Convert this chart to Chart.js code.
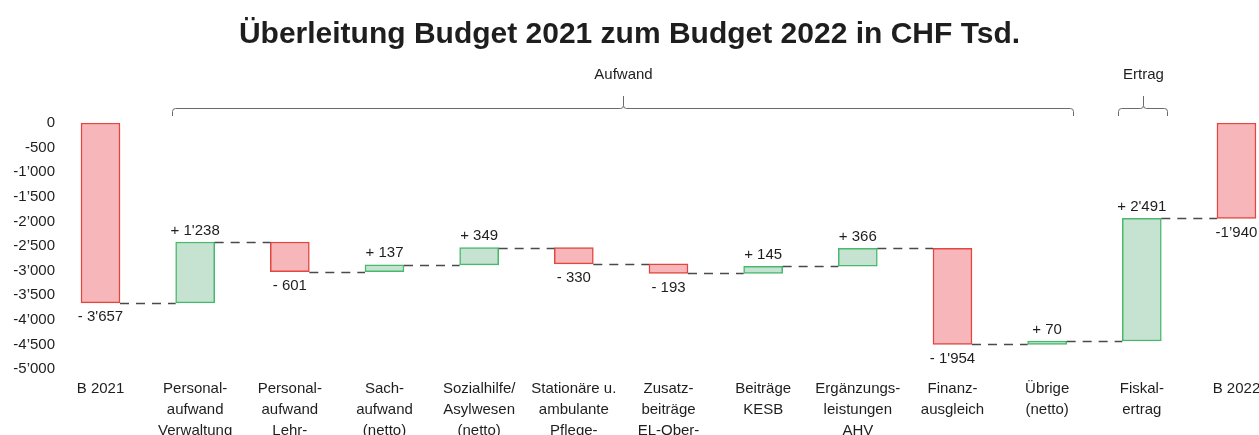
<!DOCTYPE html>
<html><head><meta charset="utf-8">
<script src="https://cdn.jsdelivr.net/npm/chart.js@4.4.1/dist/chart.umd.min.js"></script>
<style>html,body{margin:0;padding:0;background:#fff;overflow:hidden}#wrap{width:1259px;height:435px;position:relative}canvas{display:block}</style>
</head><body><div id="wrap"><canvas id="c" width="1259" height="435"></canvas></div>
<script>
const categories = [["B 2021"],["Personal-","aufwand","Verwaltung"],["Personal-","aufwand","Lehr-"],["Sach-","aufwand","(netto)"],["Sozialhilfe/","Asylwesen","(netto)"],["Stationäre u.","ambulante","Pflege-"],["Zusatz-","beiträge","EL-Ober-"],["Beiträge","KESB"],["Ergänzungs-","leistungen","AHV"],["Finanz-","ausgleich"],["Übrige","(netto)"],["Fiskal-","ertrag"],["B 2022"]];
const startTotal = -3657;
const changes = [1238, -601, 137, 349, -330, -193, 145, 366, -1954, 70, 2491];
const endTotal = -1940;
const valueLabels = ["- 3'657","+ 1'238","- 601","+ 137","+ 349","- 330","- 193","+ 145","+ 366","- 1'954","+ 70","+ 2'491","-1\u2019940"];
const yTicks = [0,-500,-1000,-1500,-2000,-2500,-3000,-3500,-4000,-4500,-5000];
const groups = [{label:"Aufwand", from:1, to:10},{label:"Ertrag", from:11, to:11}];

const RED_FILL = "#f7b6ba", RED_LINE = "#e2473f", GREEN_FILL = "#c5e3d0", GREEN_LINE = "#46b96c";

// build floating bars from the arrays
const ranges = [];
const levels = [];
ranges.push([0, startTotal]);
let run = startTotal;
levels.push(run);
changes.forEach(c => { ranges.push([run, run + c]); run += c; levels.push(run); });
ranges.push([0, endTotal]);
const kinds = ["total"].concat(changes.map(c => c >= 0 ? "up" : "down")).concat(["total"]);
const barData = ranges.map((r, i) => ({x: i, y: r}));
const fills = kinds.map(k => k === "up" ? GREEN_FILL : RED_FILL);
const lines = kinds.map(k => k === "up" ? GREEN_LINE : RED_LINE);

function fmtThousands(v) {
  const a = Math.abs(v);
  let s = a >= 1000 ? Math.floor(a/1000) + "\u2019" + String(a % 1000).padStart(3, "0") : String(a);
  return (v < 0 ? "-" : "") + s;
}

const FONT = "'Liberation Sans', Arial, Helvetica, sans-serif";
const TEXT = "#1e1e1e";

const overlay = {
  id: "overlay",
  afterDatasetsDraw(chart) {
    const ctx = chart.ctx;
    const xs = chart.scales.x, ys = chart.scales.y;
    const meta = chart.getDatasetMeta(0);
    // connectors
    ctx.save();
    ctx.strokeStyle = "#4a4a4a";
    ctx.lineWidth = 1.5;
    ctx.setLineDash([9, 7]);
    for (let i = 0; i < levels.length; i++) {
      const a = meta.data[i], b = meta.data[i+1];
      const y = Math.round(ys.getPixelForValue(levels[i])) + 0.5;
      ctx.beginPath();
      ctx.moveTo(a.x + a.width/2, y);
      ctx.lineTo(b.x - b.width/2, y);
      ctx.stroke();
    }
    ctx.restore();
    // value labels
    ctx.save();
    ctx.font = "15px " + FONT;
    ctx.fillStyle = TEXT;
    ctx.textAlign = "center";
    ctx.textBaseline = "middle";
    meta.data.forEach((el, i) => {
      const top = Math.min(el.y, el.base), bottom = Math.max(el.y, el.base);
      if (kinds[i] === "up") ctx.fillText(valueLabels[i], el.x, top - 11.5);
      else ctx.fillText(valueLabels[i], el.x, bottom + 14);
    });
    ctx.restore();
    // group brackets
    ctx.save();
    ctx.strokeStyle = "#6a6a6a";
    ctx.lineWidth = 1;
    ctx.font = "15px " + FONT;
    ctx.fillStyle = TEXT;
    ctx.textAlign = "center";
    ctx.textBaseline = "middle";
    const yl = 108.5, yEnd = 116, yTip = 96;
    groups.forEach(g => {
      const x0 = Math.round(xs.getPixelForValue(g.from - 0.25)) + 0.5;
      const x1 = Math.round(xs.getPixelForValue(g.to + 0.27)) + 0.5;
      const xc = Math.round((x0 + x1) / 2) + 0.5;
      ctx.beginPath();
      ctx.moveTo(x0, yEnd);
      ctx.lineTo(x0, yl + 3);
      ctx.quadraticCurveTo(x0, yl, x0 + 3, yl);
      ctx.lineTo(xc - 3, yl);
      ctx.quadraticCurveTo(xc, yl, xc, yl - 3);
      ctx.lineTo(xc, yTip);
      ctx.moveTo(xc, yl - 3);
      ctx.quadraticCurveTo(xc, yl, xc + 3, yl);
      ctx.lineTo(x1 - 3, yl);
      ctx.quadraticCurveTo(x1, yl, x1, yl + 3);
      ctx.lineTo(x1, yEnd);
      ctx.stroke();
      ctx.fillText(g.label, xc, 75);
    });
    ctx.restore();
  }
};

new Chart(document.getElementById("c"), {
  type: "bar",
  data: {
    datasets: [{
      data: barData,
      backgroundColor: fills,
      borderColor: lines,
      borderWidth: 1.5,
      borderSkipped: false,
      barThickness: 39
    }]
  },
  options: {
    responsive: false,
    animation: false,
    devicePixelRatio: 1,
    layout: { padding: { left: 0, right: 0, top: 0, bottom: 0 } },
    plugins: {
      legend: { display: false },
      tooltip: { enabled: false },
      title: {
        display: true,
        text: "Überleitung Budget 2021 zum Budget 2022 in CHF Tsd.",
        color: TEXT,
        font: { family: FONT, size: 30, weight: "bold", lineHeight: 1.2 },
        padding: { top: 17, bottom: 70 }
      }
    },
    scales: {
      x: {
        type: "linear",
        offset: false,
        min: -0.449,
        max: 12.238,
        grid: { display: false, drawTicks: false },
        border: { display: false },
        afterBuildTicks: s => { s.ticks = categories.map((_, i) => ({ value: i })); },
        afterFit: s => { s.height = 66; s.paddingLeft = 0; s.paddingRight = 0; },
        ticks: {
          autoSkip: false,
          maxRotation: 0,
          padding: 9,
          color: TEXT,
          font: { family: FONT, size: 15, lineHeight: 1.4 },
          callback: v => categories[v]
        }
      },
      y: {
        min: -5000,
        max: 0,
        grid: { display: false, drawTicks: false },
        border: { display: false },
        afterBuildTicks: s => { s.ticks = yTicks.map(v => ({ value: v })); },
        afterFit: s => { s.width = 58; },
        ticks: {
          padding: 3,
          color: TEXT,
          font: { family: FONT, size: 15 },
          callback: v => fmtThousands(v)
        }
      }
    }
  },
  plugins: [overlay]
});
</script>
</body></html>
